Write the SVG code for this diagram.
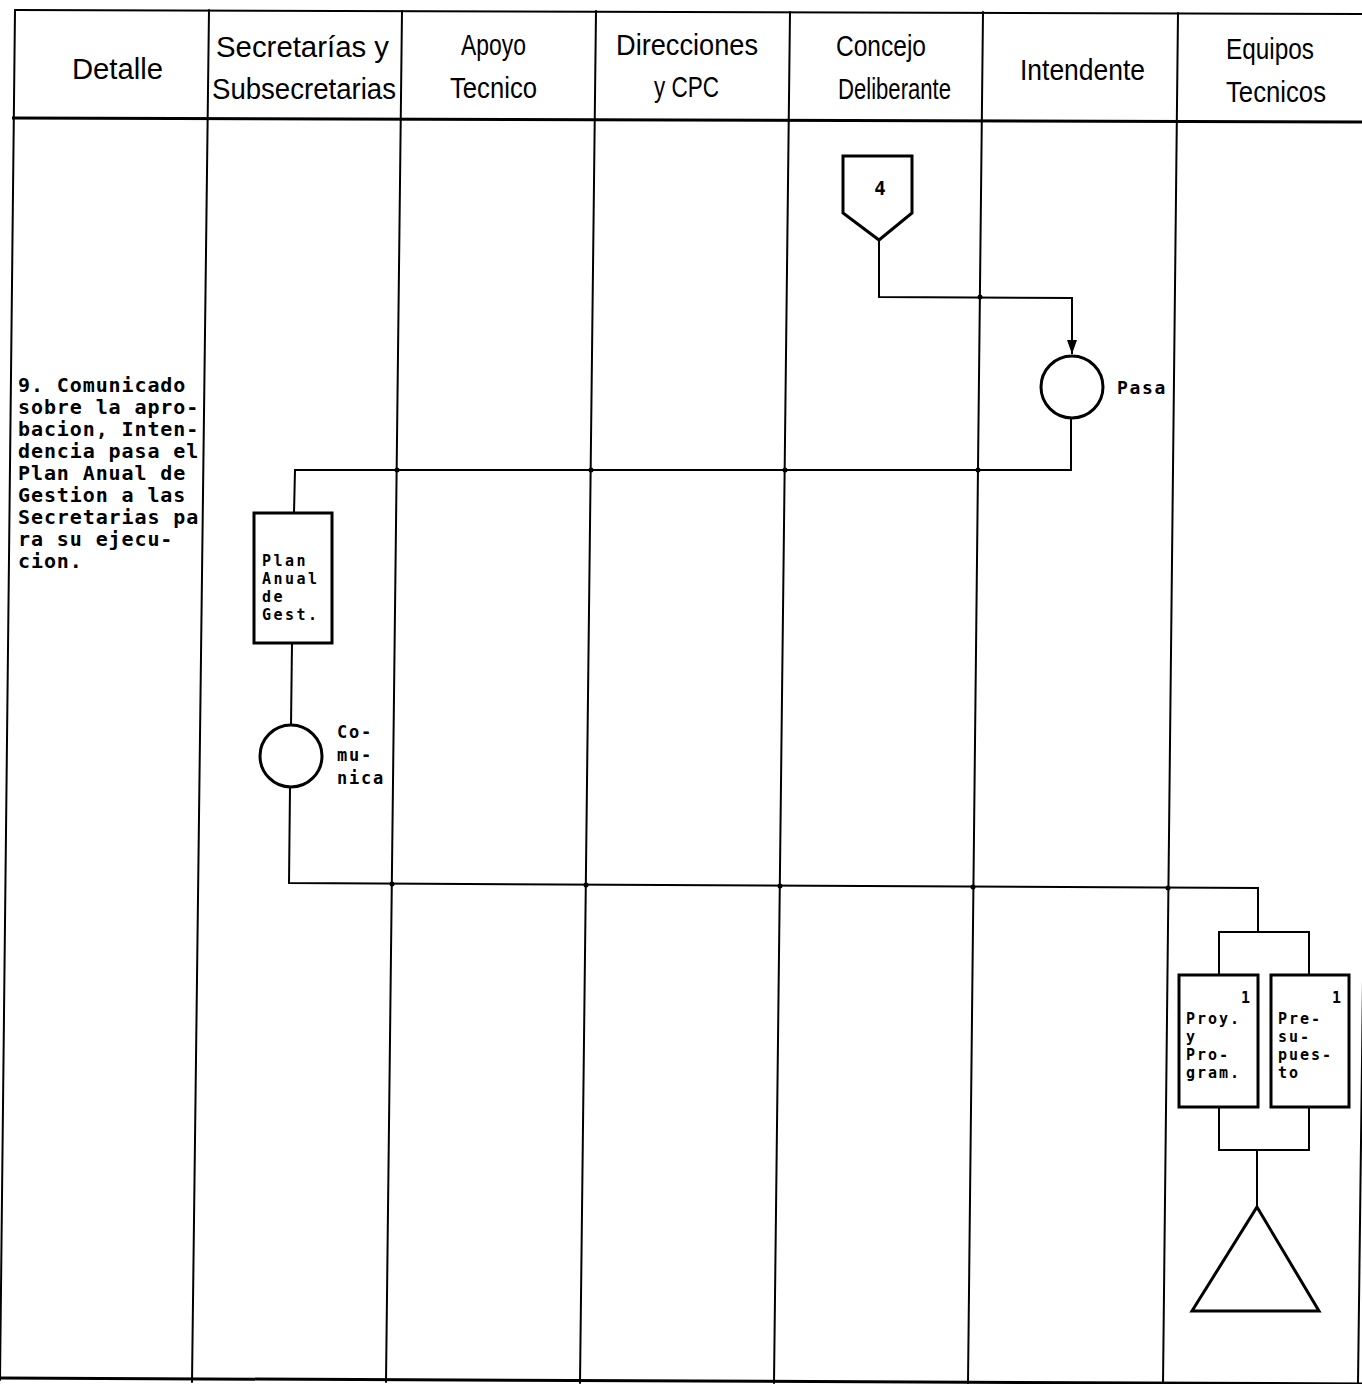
<svg xmlns="http://www.w3.org/2000/svg" width="1362" height="1384" viewBox="0 0 1362 1384">
<defs>
<style>
.frame{stroke:#000;stroke-width:2;fill:none;stroke-linecap:round}
.thick{stroke:#000;stroke-width:3;fill:none}
.conn{stroke:#000;stroke-width:2;fill:none}
.shape{stroke:#000;stroke-width:3;fill:#fff}
.hdr{font-family:"Liberation Sans",Arial,sans-serif;font-size:30px;fill:#000}
.mono{font-family:"DejaVu Sans Mono","Liberation Mono",monospace;font-weight:bold;fill:#000}
.dot{fill:#000}
</style>
<marker id="arrow" viewBox="0 0 14 10" refX="14" refY="5" markerWidth="14" markerHeight="10" markerUnits="userSpaceOnUse" orient="auto">
<path d="M0,0 L14,5 L0,10 Z" fill="#000"/>
</marker>
</defs>
<rect width="1362" height="1384" fill="#fff"/>

<g id="table">
<line class="frame" x1="15" y1="10" x2="1375" y2="14"/>
<line class="thick" x1="12" y1="118" x2="1375" y2="122"/>
<line class="thick" x1="0" y1="1378" x2="1362" y2="1384"/>
<line class="frame" x1="15" y1="10" x2="0" y2="1380"/>
<line class="frame" x1="209" y1="10" x2="192" y2="1382"/>
<line class="frame" x1="402" y1="11" x2="386" y2="1382"/>
<line class="frame" x1="596" y1="11" x2="580" y2="1383"/>
<line class="frame" x1="790" y1="12" x2="774" y2="1383"/>
<line class="frame" x1="983" y1="12" x2="968" y2="1383"/>
<line class="frame" x1="1178" y1="13" x2="1163" y2="1384"/>
<line class="frame" x1="1375" y1="14" x2="1358" y2="1384"/>
</g>

<g id="headers">
<text class="hdr" x="72" y="79" textLength="91" lengthAdjust="spacingAndGlyphs">Detalle</text>
<text class="hdr" x="216" y="57" textLength="173" lengthAdjust="spacingAndGlyphs">Secretarías y</text>
<text class="hdr" x="212" y="99" textLength="184" lengthAdjust="spacingAndGlyphs">Subsecretarias</text>
<text class="hdr" x="461" y="55" textLength="65" lengthAdjust="spacingAndGlyphs">Apoyo</text>
<text class="hdr" x="450" y="98" textLength="87" lengthAdjust="spacingAndGlyphs">Tecnico</text>
<text class="hdr" x="616" y="55" textLength="142" lengthAdjust="spacingAndGlyphs">Direcciones</text>
<text class="hdr" x="654" y="97" textLength="65" lengthAdjust="spacingAndGlyphs">y CPC</text>
<text class="hdr" x="836" y="56" textLength="90" lengthAdjust="spacingAndGlyphs">Concejo</text>
<text class="hdr" x="838" y="99" textLength="113" lengthAdjust="spacingAndGlyphs">Deliberante</text>
<text class="hdr" x="1020" y="80" textLength="125" lengthAdjust="spacingAndGlyphs">Intendente</text>
<text class="hdr" x="1226" y="59" textLength="88" lengthAdjust="spacingAndGlyphs">Equipos</text>
<text class="hdr" x="1226" y="102" textLength="100" lengthAdjust="spacingAndGlyphs">Tecnicos</text>
</g>

<g id="detail" class="mono" font-size="20" letter-spacing="0.9">
<text x="18" y="392">9. Comunicado</text>
<text x="18" y="414">sobre la apro-</text>
<text x="18" y="436">bacion, Inten-</text>
<text x="18" y="458">dencia pasa el</text>
<text x="18" y="480">Plan Anual de</text>
<text x="18" y="502">Gestion a las</text>
<text x="18" y="524">Secretarias pa</text>
<text x="18" y="546">ra su ejecu-</text>
<text x="18" y="568">cion.</text>
</g>

<g id="connectors">
<polyline class="conn" points="879,240 879,297 1072,298 1072,354" marker-end="url(#arrow)"/>
<polyline class="conn" points="1071,419 1071,470 295,470 294,513"/>
<line class="conn" x1="292" y1="643" x2="291" y2="725"/>
<polyline class="conn" points="290,788 289,883 1258,888 1258,932"/>
<polyline class="conn" points="1219,975 1219,932 1309,932 1309,975"/>
<polyline class="conn" points="1219,1107 1219,1150 1309,1150 1309,1107"/>
<line class="conn" x1="1257" y1="1150" x2="1257" y2="1207"/>
<circle class="dot" cx="980" cy="297" r="2.5"/>
<circle class="dot" cx="397" cy="470" r="2.5"/>
<circle class="dot" cx="591" cy="470" r="2.5"/>
<circle class="dot" cx="785" cy="470" r="2.5"/>
<circle class="dot" cx="978" cy="470" r="2.5"/>
<circle class="dot" cx="392" cy="884" r="2.5"/>
<circle class="dot" cx="586" cy="885" r="2.5"/>
<circle class="dot" cx="780" cy="886" r="2.5"/>
<circle class="dot" cx="973" cy="887" r="2.5"/>
<circle class="dot" cx="1168" cy="888" r="2.5"/>
</g>

<g id="node-conector-4">
<path class="shape" d="M843,156 L912,156 L912,213 L879,240 L843,213 Z"/>
<text class="mono" font-size="19" x="880" y="195" text-anchor="middle">4</text>
</g>

<g id="node-pasa">
<circle class="shape" cx="1072" cy="387" r="31" stroke-width="3.5"/>
<text class="mono" font-size="18" letter-spacing="1.7" x="1117" y="394">Pasa</text>
</g>

<g id="node-plan-anual">
<rect class="shape" x="254" y="513" width="78" height="130"/>
<g class="mono" font-size="15" letter-spacing="2.5">
<text x="262" y="566">Plan</text>
<text x="262" y="584">Anual</text>
<text x="262" y="602">de</text>
<text x="262" y="620">Gest.</text>
</g>
</g>

<g id="node-comunica">
<circle class="shape" cx="291" cy="756" r="31" stroke-width="3.5"/>
<g class="mono" font-size="17" letter-spacing="1.8">
<text x="337" y="738">Co-</text>
<text x="337" y="761">mu-</text>
<text x="337" y="784">nica</text>
</g>
</g>

<g id="node-proyectos">
<rect class="shape" x="1179" y="975" width="79" height="132"/>
<g class="mono" font-size="15" letter-spacing="2">
<text x="1252" y="1003" text-anchor="end">1</text>
<text x="1186" y="1024">Proy.</text>
<text x="1186" y="1042">y</text>
<text x="1186" y="1060">Pro-</text>
<text x="1186" y="1078">gram.</text>
</g>
</g>

<g id="node-presupuesto">
<rect class="shape" x="1271" y="975" width="78" height="132"/>
<g class="mono" font-size="15" letter-spacing="2">
<text x="1343" y="1003" text-anchor="end">1</text>
<text x="1278" y="1024">Pre-</text>
<text x="1278" y="1042">su-</text>
<text x="1278" y="1060">pues-</text>
<text x="1278" y="1078">to</text>
</g>
</g>

<g id="node-archivo">
<path class="shape" d="M1257,1207 L1319,1311 L1192,1311 Z" stroke-width="4" stroke-linejoin="miter"/>
</g>
</svg>
